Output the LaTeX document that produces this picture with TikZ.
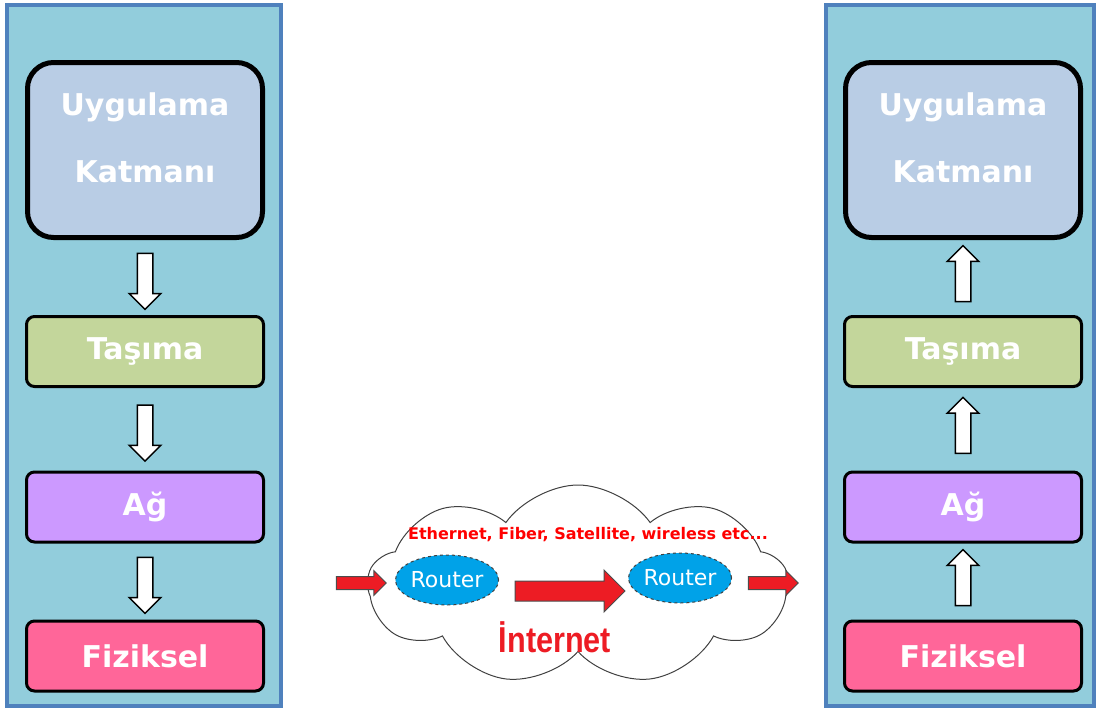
\documentclass[tikz,border=0pt]{standalone}
\usepackage{fontspec}
\setmainfont{DejaVu Sans}
\newfontfamily\inetfont[FakeStretch=0.85]{Liberation Sans}
\usetikzlibrary{shapes.arrows, shapes.symbols, shapes.geometric, calc}
\definecolor{panelblue}{HTML}{92CDDC}
\definecolor{panelline}{HTML}{4F81BD}
\definecolor{appfill}{HTML}{B9CDE5}
\definecolor{tasfill}{HTML}{C3D69B}
\definecolor{agfill}{HTML}{CC99FF}
\definecolor{fizfill}{HTML}{FF6699}
\definecolor{netred}{HTML}{ED1C24}
\definecolor{routerblue}{HTML}{00A2E8}

\begin{document}
\begin{tikzpicture}[x=1pt, y=-1pt,
    panel/.style={draw=panelline, line width=4pt, fill=panelblue},
    bigbox/.style={draw=black, line width=5pt, rounded corners=26pt, fill=appfill,
      minimum width=235pt, minimum height=175pt},
    layer/.style={draw=black, line width=3pt, rounded corners=8pt,
      minimum width=237pt, minimum height=70pt, text=white,
      font=\fontsize{30}{33}\selectfont\bfseries},
    lbl/.style={text=white, align=center, font=\fontsize{30}{67}\selectfont\bfseries},
    blockarr/.style={single arrow, draw=black, line width=1.5pt, fill=white,
      inner sep=7pt, single arrow head extend=8pt, minimum height=56pt},
    redarr/.style={single arrow, draw=black!70, line width=1pt, fill=netred,
      inner sep=6pt, single arrow head extend=6pt, minimum height=50pt},
    router/.style={ellipse, draw=black!75, dashed, line width=1pt, fill=routerblue,
      minimum width=96pt, minimum height=50pt, inner sep=0pt, text=white,
      font=\fontsize{22}{24}\selectfont}
  ]
  \useasboundingbox (0,0) rectangle (1099,710);

  % sender stack
  \draw[panel] (7,5) rectangle (281,706);
  \node[bigbox] (appL) at (145,150) {};
  \node[lbl] (appLtxt) at (145,138) {Uygulama\\Katmanı};
  \node[layer, fill=tasfill] (tasL) at (145,351.5) {Taşıma};
  \node[layer, fill=agfill] (agL) at (145,507) {Ağ};
  \node[layer, fill=fizfill] (fizL) at (145,656) {Fiziksel};

  % receiver stack
  \draw[panel] (826,5) rectangle (1094,706);
  \node[bigbox] (appR) at (963,150) {};
  \node[lbl] (appRtxt) at (963,138) {Uygulama\\Katmanı};
  \node[layer, fill=tasfill] (tasR) at (963,351.5) {Taşıma};
  \node[layer, fill=agfill] (agR) at (963,507) {Ağ};
  \node[layer, fill=fizfill] (fizR) at (963,656) {Fiziksel};

  \foreach \a/\b in {appL/tasL, tasL/agL, agL/fizL} {
    \node[blockarr, rotate=-90] (dn-\b) at ($(\a.south)!0.5!(\b.north)$) {};
  }
  \foreach \a/\b in {fizR/agR, agR/tasR, tasR/appR} {
    \node[blockarr, rotate=90] (up-\a) at ($(\a.north)!0.5!(\b.south)$) {};
  }

  % internet cloud
  \node[cloud, draw=black!75, line width=1pt, cloud puffs=9, cloud puff arc=110,
    aspect=2.2, minimum width=420pt, minimum height=200pt] (cloud) at (578,585) {};
  \node[text=red, font=\fontsize{16}{18}\selectfont\bfseries] (media) at (588,535)
    {Ethernet, Fiber, Satellite, wireless etc...};
  \node[router] (rtA) at (447,580) {Router};
  \node[router] (rtB) at (680,578) {Router};
  \node[redarr] (inA) at (358,583) {};
  \node[redarr, inner sep=9.5pt, single arrow head extend=11pt,
    minimum height=110pt] (hop) at (565,591) {};
  \node[redarr] (outB) at (770,583) {};
  \node[text=netred, font=\inetfont\fontsize{36}{40}\selectfont\bfseries] (inet)
    at (555,637) {İnternet};
\end{tikzpicture}
\end{document}
